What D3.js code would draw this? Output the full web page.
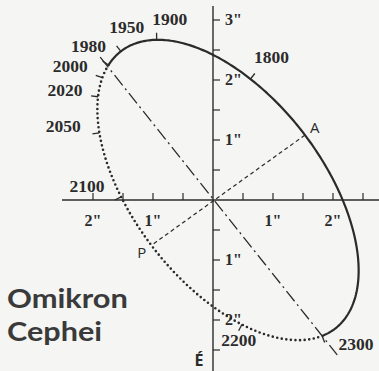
<!DOCTYPE html>
<html><head><meta charset="utf-8">
<script src="https://cdn.jsdelivr.net/npm/d3@7"></script>
<style>body{margin:0;background:#f5f5f3}svg{display:block}</style>
</head><body><svg id="c" width="379" height="371"></svg>
<script>
// ---- data (arcseconds) ----
const axisTicksX = [-2, -1.5, -1, -0.5, 0.5, 1, 1.5, 2, 2.5];
const axisLabelsX = [-2, -1, 1, 2];
const axisTicksY = [-2.5, -2, -1.5, -1, -0.5, 0.5, 1, 1.5, 2, 2.5, 3];
const axisLabelsY = [-2, -1, 1, 2, 3];
const ellipseCenter = [0.25, 0.167];
const ellipseAxes = [2.92, 1.575];
const ellipseTilt = -52.3;               // degrees
const years = [1800, 1900, 1950, 1980, 2000, 2020, 2050, 2100, 2200, 2300];
const yearAnomaly = [115, 158, 180, 191, 199, 209, 225, 250, 311, 351]; // eccentric anomaly, deg
const observedArc = [-9, 191];
const predictedArc = [191, 351];
const nodeLine = [[-1.88, 2.38], [2.07, -2.58]];
const apsisNames = ["A", "P"];
const apsisPoints = [[1.53, 1.08], [-1.02, -0.75]];
const title = ["Omikron", "Cephei"];
const northLabel = "É";

// ---- layout (pixel offsets for labels) ----
const yearLabelOffset = [[21,-20],[13,-19],[6,-22],[-20,-17],[-32,-10],[-33,-5],[-36,-5],[-34,-9],[-3,17],[34,10]];
const apsisLabelOffset = [[10,-6],[-10,9]];
const titleWidths = [121, 95];

const ink = "#2b2b2b";
const svg = d3.select("#c");
const x = d3.scaleLinear().domain([0, 1]).range([213, 273]);
const y = d3.scaleLinear().domain([0, 1]).range([200, 140]);

const th = ellipseTilt * Math.PI / 180;
const e1 = [Math.cos(th), Math.sin(th)], e2 = [-Math.sin(th), Math.cos(th)];
const [A, B] = ellipseAxes;
function pt(deg) {
  const t = deg * Math.PI / 180, c = A * Math.cos(t), s = B * Math.sin(t);
  return [ellipseCenter[0] + c * e1[0] + s * e2[0], ellipseCenter[1] + c * e1[1] + s * e2[1]];
}
function normalPx(deg) {
  const t = deg * Math.PI / 180, c = Math.cos(t) / A, s = Math.sin(t) / B;
  const nx = c * e1[0] + s * e2[0], ny = -(c * e1[1] + s * e2[1]);
  const L = Math.hypot(nx, ny);
  return [nx / L, ny / L];
}
const line = d3.line().x(d => x(d[0])).y(d => y(d[1]));

// axes
svg.append("line").attr("x1", x(0)).attr("x2", x(0)).attr("y1", 6).attr("y2", 371)
  .attr("stroke", ink).attr("stroke-width", 1.4);
svg.append("line").attr("x1", 62).attr("x2", 379).attr("y1", y(0)).attr("y2", y(0))
  .attr("stroke", ink).attr("stroke-width", 1.4);
svg.selectAll(".tx").data(axisTicksX).join("line")
  .attr("x1", d => x(d)).attr("x2", d => x(d)).attr("y1", y(0)).attr("y2", y(0) - 7)
  .attr("stroke", ink).attr("stroke-width", 1.2);
svg.selectAll(".ty").data(axisTicksY).join("line")
  .attr("x1", x(0)).attr("x2", x(0) + 7).attr("y1", d => y(d)).attr("y2", d => y(d))
  .attr("stroke", ink).attr("stroke-width", 1.2);
const tickFont = "'Liberation Serif', serif";
svg.selectAll(".lx").data(axisLabelsX).join("text")
  .attr("x", d => x(d)).attr("y", y(0) + 22).attr("text-anchor", "middle")
  .attr("dominant-baseline", "middle").attr("font-family", tickFont).attr("font-weight", "bold")
  .attr("font-size", 16).attr("fill", ink).text(d => Math.abs(d) + '"');
svg.selectAll(".ly").data(axisLabelsY).join("text")
  .attr("x", x(0) + 12).attr("y", d => y(d) + 1).attr("text-anchor", "start")
  .attr("dominant-baseline", "middle").attr("font-family", tickFont).attr("font-weight", "bold")
  .attr("font-size", 16).attr("fill", ink).text(d => Math.abs(d) + '"');

// node line (dash-dot)
svg.append("path").attr("d", line(nodeLine)).attr("fill", "none").attr("stroke", ink)
  .attr("stroke-width", 1.3).attr("stroke-dasharray", "13 4 2 4");
// apsides line
svg.append("path").attr("d", line(apsisPoints)).attr("fill", "none").attr("stroke", ink)
  .attr("stroke-width", 1.2).attr("stroke-dasharray", "4 3");

// orbit
svg.append("path").attr("d", line(d3.range(observedArc[0], observedArc[1] + 0.01, 1).map(pt)))
  .attr("fill", "none").attr("stroke", ink).attr("stroke-width", 2.2);
svg.append("path").attr("d", line(d3.range(predictedArc[0], predictedArc[1] + 0.01, 1).map(pt)))
  .attr("fill", "none").attr("stroke", ink).attr("stroke-width", 2.6)
  .attr("stroke-linecap", "round").attr("stroke-dasharray", "0 4.6");

// year ticks and labels
years.forEach((yr, i) => {
  const p = pt(yearAnomaly[i]), n = normalPx(yearAnomaly[i]);
  const px = x(p[0]), py = y(p[1]);
  svg.append("line").attr("x1", px).attr("y1", py).attr("x2", px + n[0] * 7).attr("y2", py + n[1] * 7)
    .attr("stroke", ink).attr("stroke-width", 1.3);
  svg.append("text").attr("x", px + yearLabelOffset[i][0]).attr("y", py + yearLabelOffset[i][1])
    .attr("text-anchor", "middle").attr("dominant-baseline", "middle")
    .attr("font-family", tickFont).attr("font-weight", "bold").attr("font-size", 17.5)
    .attr("fill", ink).text(yr);
});

// apsis labels
apsisNames.forEach((nm, i) => {
  svg.append("text").attr("x", x(apsisPoints[i][0]) + apsisLabelOffset[i][0])
    .attr("y", y(apsisPoints[i][1]) + apsisLabelOffset[i][1])
    .attr("text-anchor", "middle").attr("dominant-baseline", "middle")
    .attr("font-family", "'Open Sans', sans-serif").attr("font-size", 15)
    .attr("fill", ink).text(nm);
});

// north label
svg.append("text").attr("x", 199).attr("y", 366).attr("text-anchor", "middle")
  .attr("font-family", "'Open Sans', sans-serif").attr("font-weight", "bold").attr("font-size", 16)
  .attr("fill", ink).text(northLabel);

// title
svg.selectAll(".title").data(title).join("text")
  .attr("x", 7).attr("y", (d, i) => 308 + i * 32.5)
  .attr("font-family", "Lato, sans-serif").attr("font-weight", "bold").attr("font-size", 27)
  .attr("textLength", (d, i) => titleWidths[i]).attr("lengthAdjust", "spacingAndGlyphs")
  .attr("fill", "#3a3a3a").text(d => d);
</script>
</body></html>
